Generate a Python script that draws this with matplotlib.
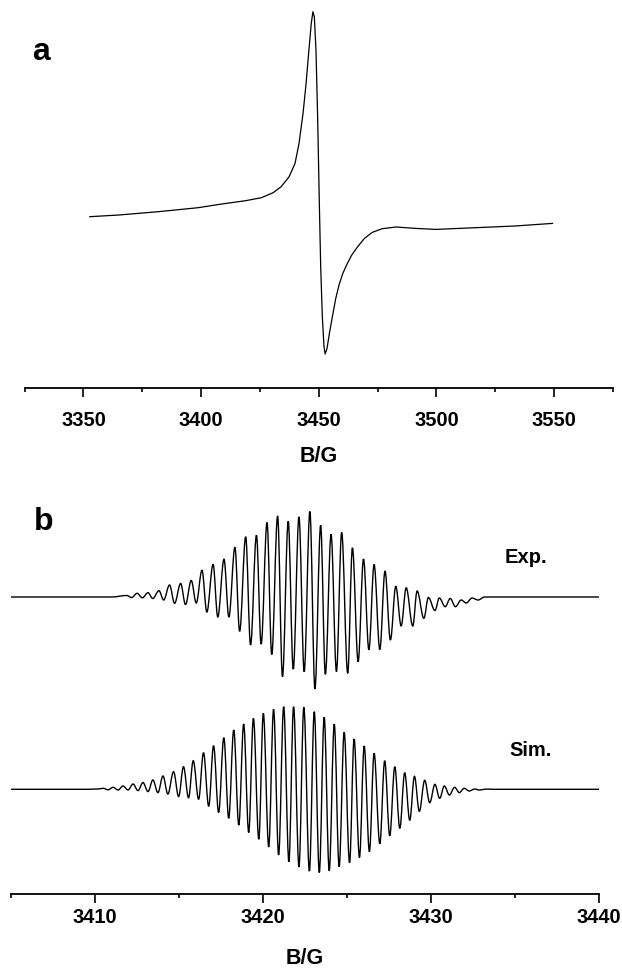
"""EPR spectra: (a) broad single line, (b) resolved hyperfine pattern, exp. vs sim."""

import matplotlib

matplotlib.use("Agg")
import matplotlib.pyplot as plt
from matplotlib.patches import PathPatch
from matplotlib.path import Path
from matplotlib.ticker import MultipleLocator

plt.rcParams["font.family"] = ["Liberation Sans", "DejaVu Sans"]
plt.rcParams["font.weight"] = "bold"

# panel a: traced points of the first-derivative spectrum (field in G, signal in a.u.)
A_FIELD = [
    3352.7, 3365.0, 3381.8, 3398.7, 3408.8, 3418.9, 3425.6, 3430.6, 3434.0,
    3437.4, 3439.9, 3441.6, 3443.3, 3444.6, 3445.8, 3446.8, 3447.5, 3448.1,
    3448.8, 3449.5, 3450.2, 3450.8, 3451.5, 3452.2, 3452.7, 3453.5, 3454.5,
    3455.9, 3457.2, 3458.6, 3460.1, 3461.8, 3464.0, 3466.5, 3469.4, 3472.7,
    3476.9, 3482.8, 3491.2, 3499.7, 3516.5, 3533.3, 3549.3,
]
A_SIGNAL = [
    10.0, 11.7, 15.0, 19.0, 22.7, 26.0, 29.0, 34.0, 40.0,
    50.0, 63.3, 83.3, 113.3, 143.3, 176.7, 203.3, 215.0, 210.0,
    176.7, 110.0, 26.7, -40.0, -90.0, -120.0, -127.3, -121.7, -106.7,
    -88.3, -71.7, -58.3, -47.3, -38.3, -28.3, -20.0, -11.7, -5.7,
    -2.0, -0.3, -1.7, -2.7, -1.0, 0.7, 3.3,
]

EXP_FIELD = [
    3405.0, 3408.0, 3411.0, 3411.9, 3412.2, 3412.52, 3412.83, 3413.17, 3413.45,
    3413.82, 3414.1, 3414.45, 3414.75, 3415.11, 3415.4, 3415.74, 3416.04,
    3416.38, 3416.67, 3417.04, 3417.32, 3417.69, 3417.98, 3418.34, 3418.62,
    3418.98, 3419.27, 3419.62, 3419.9, 3420.25, 3420.53, 3420.88, 3421.17,
    3421.51, 3421.81, 3422.15, 3422.46, 3422.8, 3423.1, 3423.44, 3423.72,
    3424.06, 3424.38, 3424.69, 3425.05, 3425.33, 3425.67, 3425.99, 3426.31,
    3426.62, 3426.96, 3427.27, 3427.59, 3427.91, 3428.23, 3428.53, 3428.92,
    3429.18, 3429.58, 3429.85, 3430.24, 3430.5, 3430.85, 3431.15, 3431.46,
    3431.8, 3432.1, 3432.45, 3432.8, 3433.2, 3436.0, 3440.0,
]
EXP_SIGNAL = [
    0.0, 0.0, 0.0, 1.5, -0.5, 3.7, -0.8, 4.3, -1.5,
    6.3, -3.0, 12.0, -6.3, 13.5, -7.5, 16.5, -6.0,
    26.7, -15.0, 32.7, -20.0, 37.7, -20.0, 49.7, -34.3,
    60.2, -48.0, 61.8, -47.2, 74.5, -57.5, 81.0, -79.7,
    75.7, -72.2, 80.2, -74.7, 85.5, -92.0, 71.7, -77.3,
    62.8, -74.5, 64.5, -76.3, 49.2, -64.7, 38.0, -52.8,
    32.5, -52.5, 26.0, -43.0, 10.7, -28.9, 9.2, -29.0,
    6.0, -21.3, -0.5, -13.5, -1.0, -9.7, -1.5, -9.7,
    -3.0, -6.0, -1.0, -3.0, 0.0, 0.0, 0.0,
]

# panel b: simulated trace, alternating maxima / minima
SIM_FIELD = [
    3405.0, 3409.5, 3410.2, 3410.5, 3410.8, 3411.09, 3411.39, 3411.68, 3411.98,
    3412.28, 3412.57, 3412.87, 3413.17, 3413.46, 3413.76, 3414.06, 3414.35,
    3414.69, 3414.99, 3415.28, 3415.58, 3415.86, 3416.18, 3416.47, 3416.78,
    3417.07, 3417.37, 3417.68, 3417.97, 3418.27, 3418.57, 3418.86, 3419.16,
    3419.44, 3419.76, 3420.03, 3420.35, 3420.64, 3420.94, 3421.24, 3421.55,
    3421.83, 3422.15, 3422.44, 3422.77, 3423.06, 3423.36, 3423.65, 3423.95,
    3424.25, 3424.54, 3424.84, 3425.16, 3425.43, 3425.75, 3426.03, 3426.34,
    3426.62, 3426.96, 3427.25, 3427.55, 3427.85, 3428.15, 3428.44, 3428.74,
    3429.02, 3429.31, 3429.63, 3429.93, 3430.24, 3430.52, 3430.8, 3431.1,
    3431.41, 3431.69, 3431.98, 3432.28, 3432.6, 3432.87, 3433.3, 3433.8, 3440.0,
]
SIM_SIGNAL = [
    0.0, 0.0, 0.3, 1.0, -0.5, 2.0, -0.7, 3.3, -0.7,
    5.3, -1.3, 6.7, -2.3, 9.3, -3.3, 13.3, -4.7,
    17.6, -7.3, 22.6, -8.5, 28.6, -10.0, 36.6, -17.0,
    43.6, -23.2, 51.6, -29.0, 59.3, -35.8, 65.3, -43.2,
    71.0, -50.0, 76.0, -57.7, 80.0, -65.7, 82.6, -72.4,
    82.6, -77.7, 82.0, -81.9, 77.6, -83.2, 72.0, -81.4,
    65.3, -77.4, 57.0, -73.5, 50.3, -68.2, 43.3, -62.4,
    36.0, -54.5, 28.6, -46.5, 22.6, -39.0, 16.6, -31.0,
    13.0, -22.0, 9.0, -13.4, 5.0, -9.0, 3.3, -5.7,
    2.0, -3.3, 1.0, -1.7, 0.3, -0.7, 0.2, 0.0, 0.0,
]

A_TICKS = [3350, 3400, 3450, 3500, 3550]
B_TICKS = [3410, 3420, 3430, 3440]

W, H = 622, 971


def extrema_path(xs, ys, k=0.36):
    """Bezier path through the extrema, flat tangent at each one."""
    verts = [(xs[0], ys[0])]
    codes = [Path.MOVETO]
    for x0, y0, x1, y1 in zip(xs[:-1], ys[:-1], xs[1:], ys[1:]):
        dx = x1 - x0
        verts += [(x0 + k * dx, y0), (x1 - k * dx, y1), (x1, y1)]
        codes += [Path.CURVE4] * 3
    return Path(verts, codes)


def style_axis(ax, pad, labelpad):
    for side in ("left", "right", "top"):
        ax.spines[side].set_visible(False)
    ax.spines["bottom"].set_linewidth(1.3)
    ax.set_yticks([])
    ax.tick_params(axis="x", which="major", length=6.3, width=1.2,
                   direction="out", labelsize=14.5, pad=pad)
    ax.tick_params(axis="x", which="minor", length=3.2, width=1.2,
                   direction="out")
    for label in ax.get_xticklabels():
        label.set_fontweight("bold")
    ax.set_xlabel("B/G", fontsize=15.5, fontweight="bold", labelpad=labelpad)
    ax.patch.set_visible(False)


def px(x, y):
    return x / W, 1 - y / H


def main():
    fig = plt.figure(figsize=(W / 100, H / 100), dpi=100)

    ax_a = fig.add_axes([24.6 / W, 1 - 388 / H, (613 - 24.6) / W, 388 / H])
    ax_a.plot(A_FIELD, A_SIGNAL, color="black", lw=0.9)
    ax_a.set_xlim(3325, 3575)
    ax_a.set_ylim(-161.3, 226.7)
    ax_a.set_xticks(A_TICKS)
    ax_a.xaxis.set_minor_locator(MultipleLocator(25))
    style_axis(ax_a, pad=10, labelpad=12)

    ax_b = fig.add_axes([10.7 / W, 1 - 894 / H, (599 - 10.7) / W, (894 - 485.5) / H])
    exp_offset = 192.3
    exp_path = extrema_path(EXP_FIELD, [v + exp_offset for v in EXP_SIGNAL])
    sim_path = extrema_path(SIM_FIELD, SIM_SIGNAL)
    for path in (exp_path, sim_path):
        ax_b.add_patch(PathPatch(path, fill=False, edgecolor="black", lw=1.0))
    ax_b.set_xlim(3405, 3440)
    ax_b.set_ylim(-104.7, 303.8)
    ax_b.set_xticks(B_TICKS)
    ax_b.xaxis.set_minor_locator(MultipleLocator(5))
    style_axis(ax_b, pad=4, labelpad=15)

    fig.text(*px(31.7, 60), "a", fontsize=23, fontweight="bold", va="baseline")
    fig.text(*px(33.7, 530), "b", fontsize=23, fontweight="bold", va="baseline")
    fig.text(*px(505, 562.7), "Exp.", fontsize=14.5, fontweight="bold", va="baseline")
    fig.text(*px(509, 756), "Sim.", fontsize=14.5, fontweight="bold", va="baseline")

    fig.savefig("out.png", dpi=100)
    plt.close(fig)


if __name__ == "__main__":
    main()
